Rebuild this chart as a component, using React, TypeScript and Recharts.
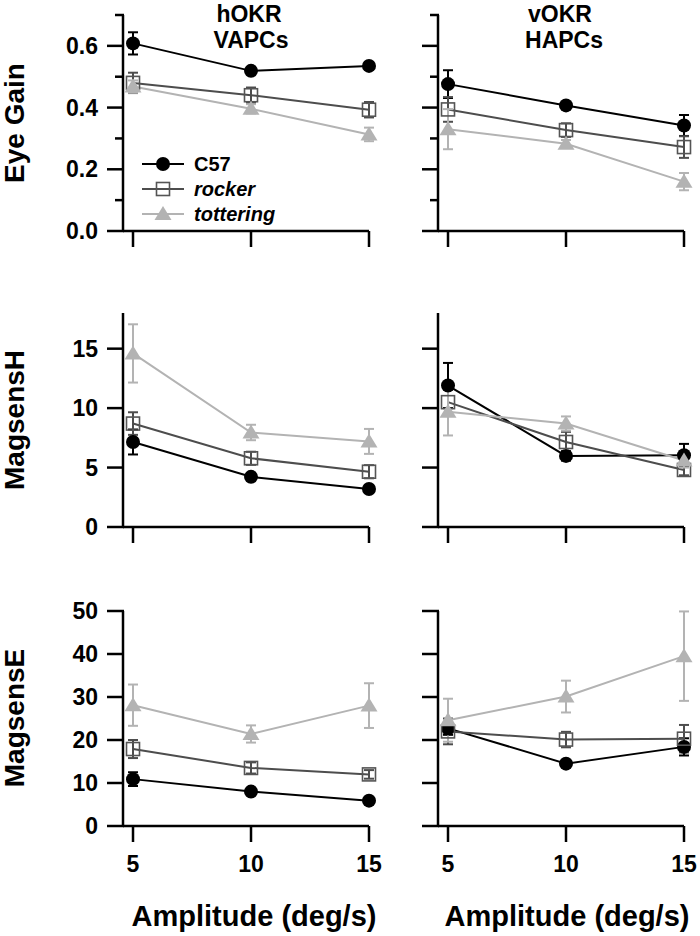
import { LineChart, Line, XAxis, YAxis, ErrorBar, Legend } from 'recharts'

const AMPLITUDES = [5, 10, 15]
const SERIES_NAMES = ['C57', 'rocker', 'tottering']

// Eye Gain, hOKR (VAPCs)
const GAIN_H_C57 = [0.608, 0.519, 0.535]
const GAIN_H_C57_ERR = [0.036, 0.01, 0.01]
const GAIN_H_ROCKER = [0.48, 0.44, 0.393]
const GAIN_H_ROCKER_ERR = [0.033, 0.025, 0.025]
const GAIN_H_TOT = [0.468, 0.396, 0.313]
const GAIN_H_TOT_ERR = [0.02, 0.015, 0.022]

// Eye Gain, vOKR (HAPCs)
const GAIN_V_C57 = [0.476, 0.407, 0.342]
const GAIN_V_C57_ERR = [0.045, 0.01, 0.034]
const GAIN_V_ROCKER = [0.394, 0.327, 0.272]
const GAIN_V_ROCKER_ERR = [0.04, 0.022, 0.035]
const GAIN_V_TOT = [0.33, 0.283, 0.16]
const GAIN_V_TOT_ERR = [0.065, 0.012, 0.028]

// MagsensH, hOKR
const MSH_H_C57 = [7.15, 4.22, 3.2]
const MSH_H_C57_ERR = [1.05, 0.3, 0.3]
const MSH_H_ROCKER = [8.7, 5.78, 4.65]
const MSH_H_ROCKER_ERR = [0.95, 0.55, 0.55]
const MSH_H_TOT = [14.6, 7.95, 7.2]
const MSH_H_TOT_ERR = [2.45, 0.65, 1.05]

// MagsensH, vOKR
const MSH_V_C57 = [11.9, 5.98, 6.04]
const MSH_V_C57_ERR = [1.9, 0.4, 0.95]
const MSH_V_ROCKER = [10.5, 7.15, 4.8]
const MSH_V_ROCKER_ERR = [1.1, 0.85, 0.45]
const MSH_V_TOT = [9.7, 8.7, 5.6]
const MSH_V_TOT_ERR = [2.0, 0.6, 0.6]

// MagsensE, hOKR
const MSE_H_C57 = [10.9, 8.0, 5.9]
const MSE_H_C57_ERR = [1.6, 0.5, 0.5]
const MSE_H_ROCKER = [17.9, 13.5, 12.0]
const MSE_H_ROCKER_ERR = [2.1, 1.3, 1.0]
const MSE_H_TOT = [28.1, 21.4, 28.0]
const MSE_H_TOT_ERR = [4.8, 2.0, 5.2]

// MagsensE, vOKR
const MSE_V_C57 = [22.7, 14.5, 18.4]
const MSE_V_C57_ERR = [1.5, 0.5, 2.0]
const MSE_V_ROCKER = [22.0, 20.1, 20.3]
const MSE_V_ROCKER_ERR = [3.0, 1.8, 3.2]
const MSE_V_TOT = [24.6, 30.1, 39.5]
const MSE_V_TOT_ERR = [5.0, 3.7, 10.4]

// axis ticks
const GAIN_TICKS = [0, 0.1, 0.2, 0.3, 0.4, 0.5, 0.6, 0.7]
const GAIN_MAJOR = [0, 0.2, 0.4, 0.6]
const MSH_TICKS = [0, 5, 10, 15]
const MSE_TICKS = [0, 10, 20, 30, 40, 50]

const FONT = '"Liberation Sans", Arial, Helvetica, sans-serif'
const COLORS = { c57: '#000000', rocker: '#4d4d4d', tottering: '#b3b3b3' }
const X_DOMAIN = [4.576, 15]

function rows(c57: number[], c57e: number[], rk: number[], rke: number[], tt: number[], tte: number[]) {
  return AMPLITUDES.map((amp, i) => ({
    amp,
    c57: c57[i], c57Err: c57e[i],
    rocker: rk[i], rockerErr: rke[i],
    tot: tt[i], totErr: tte[i],
  }))
}

function CircleDot(props: any) {
  const { cx, cy } = props
  if (cx == null || cy == null) return <g />
  return <circle cx={cx} cy={cy} r={7} fill={COLORS.c57} />
}

function SquareDot(props: any) {
  const { cx, cy } = props
  if (cx == null || cy == null) return <g />
  return <rect x={cx - 6.5} y={cy - 6.5} width={13} height={13} fill="none" stroke="#555" strokeWidth={1.6} />
}

function TriangleDot(props: any) {
  const { cx, cy } = props
  if (cx == null || cy == null) return <g />
  return <polygon points={`${cx},${cy - 8} ${cx - 8.5},${cy + 6} ${cx + 8.5},${cy + 6}`} fill={COLORS.tottering} />
}

function EmptyTick() {
  return <g />
}

function XTickLabel(props: any) {
  const { x, y, payload } = props
  return (
    <text x={x} y={y} dy="0.71em" textAnchor="middle" fontSize={23} fontWeight="bold" fontFamily={FONT} fill="#000">
      {payload.value}
    </text>
  )
}

function makeYTick(major: number[], digits: number, showLabel: boolean) {
  return (props: any) => {
    const { x, y, payload } = props
    const ax = x + 25
    const isMajor = major.includes(payload.value)
    const len = isMajor ? 16 : 8
    return (
      <g>
        <line x1={ax - len} x2={ax + 1} y1={y} y2={y} stroke="#000" strokeWidth={2.5} />
        {showLabel && isMajor && (
          <text x={x} y={y} dy="0.355em" textAnchor="end" fontSize={23} fontWeight="bold" fontFamily={FONT} fill="#000">
            {Number(payload.value).toFixed(digits)}
          </text>
        )}
      </g>
    )
  }
}

function LegendContent() {
  const items = [
    { name: SERIES_NAMES[0], color: COLORS.c57, Dot: CircleDot, italic: false, y: 14 },
    { name: SERIES_NAMES[1], color: COLORS.rocker, Dot: SquareDot, italic: true, y: 39 },
    { name: SERIES_NAMES[2], color: COLORS.tottering, Dot: TriangleDot, italic: true, y: 64 },
  ]
  return (
    <svg width={170} height={80}>
      {items.map((it) => (
        <g key={it.name}>
          <line x1={2} x2={44} y1={it.y} y2={it.y} stroke={it.color} strokeWidth={2} />
          <it.Dot cx={23} cy={it.y} />
          <text x={54} y={it.y} dy="0.355em" fontSize={20} fontWeight="bold" fontStyle={it.italic ? 'italic' : 'normal'} fontFamily={FONT} fill="#000">
            {it.name}
          </text>
        </g>
      ))}
    </svg>
  )
}

interface PanelProps {
  left: number
  top: number
  width: number
  height: number
  marginTop: number
  marginRight: number
  yWidth: number
  xHeight: number
  data: any[]
  yDomain: number[]
  yTicks: number[]
  yMajor: number[]
  digits: number
  yLabels: boolean
  xLabels: boolean
  legend?: boolean
}

function Panel(p: PanelProps) {
  return (
    <div style={{ position: 'absolute', left: p.left, top: p.top }}>
      <LineChart width={p.width} height={p.height} data={p.data} margin={{ top: p.marginTop, right: p.marginRight, bottom: 0, left: 0 }}>
        <XAxis
          dataKey="amp"
          type="number"
          domain={X_DOMAIN}
          ticks={AMPLITUDES}
          interval={0}
          height={p.xHeight}
          tickSize={16}
          tickMargin={14}
          stroke="#000"
          axisLine={{ strokeWidth: 2.5 }}
          tickLine={{ strokeWidth: 2.5 }}
          tick={p.xLabels ? XTickLabel : EmptyTick}
        />
        <YAxis
          type="number"
          domain={p.yDomain}
          ticks={p.yTicks}
          interval={0}
          width={p.yWidth}
          tickSize={16}
          tickMargin={9}
          stroke="#000"
          axisLine={{ strokeWidth: 2.5 }}
          tickLine={false}
          tick={makeYTick(p.yMajor, p.digits, p.yLabels)}
        />
        {p.legend && (
          <Legend
            layout="horizontal"
            verticalAlign="middle"
            align="center"
            content={LegendContent}
            wrapperStyle={{ position: 'absolute', left: 140, top: 150, width: 170, height: 80 }}
          />
        )}
        <Line dataKey="c57" name={SERIES_NAMES[0]} stroke={COLORS.c57} strokeWidth={2} dot={CircleDot} activeDot={false} isAnimationActive={false}>
          <ErrorBar dataKey="c57Err" direction="y" width={5} stroke={COLORS.c57} strokeWidth={2} />
        </Line>
        <Line dataKey="rocker" name={SERIES_NAMES[1]} stroke={COLORS.rocker} strokeWidth={2} dot={SquareDot} activeDot={false} isAnimationActive={false}>
          <ErrorBar dataKey="rockerErr" direction="y" width={5} stroke={COLORS.rocker} strokeWidth={2} />
        </Line>
        <Line dataKey="tot" name={SERIES_NAMES[2]} stroke={COLORS.tottering} strokeWidth={2} dot={TriangleDot} activeDot={false} isAnimationActive={false}>
          <ErrorBar dataKey="totErr" direction="y" width={5} stroke={COLORS.tottering} strokeWidth={2} />
        </Line>
      </LineChart>
    </div>
  )
}

export default function App() {
  const gainH = rows(GAIN_H_C57, GAIN_H_C57_ERR, GAIN_H_ROCKER, GAIN_H_ROCKER_ERR, GAIN_H_TOT, GAIN_H_TOT_ERR)
  const gainV = rows(GAIN_V_C57, GAIN_V_C57_ERR, GAIN_V_ROCKER, GAIN_V_ROCKER_ERR, GAIN_V_TOT, GAIN_V_TOT_ERR)
  const mshH = rows(MSH_H_C57, MSH_H_C57_ERR, MSH_H_ROCKER, MSH_H_ROCKER_ERR, MSH_H_TOT, MSH_H_TOT_ERR)
  const mshV = rows(MSH_V_C57, MSH_V_C57_ERR, MSH_V_ROCKER, MSH_V_ROCKER_ERR, MSH_V_TOT, MSH_V_TOT_ERR)
  const mseH = rows(MSE_H_C57, MSE_H_C57_ERR, MSE_H_ROCKER, MSE_H_ROCKER_ERR, MSE_H_TOT, MSE_H_TOT_ERR)
  const mseV = rows(MSE_V_C57, MSE_V_C57_ERR, MSE_V_ROCKER, MSE_V_ROCKER_ERR, MSE_V_TOT, MSE_V_TOT_ERR)

  // plot areas: left x 123..369, right x 438..684
  const leftCol = { left: 0, width: 395, marginRight: 26, yWidth: 123, yLabels: true }
  const rightCol = { left: 350, width: 350, marginRight: 16, yWidth: 88, yLabels: false }
  const row1 = { top: 0, height: 261, marginTop: 15, xHeight: 30, yDomain: [0, 0.7], yTicks: GAIN_TICKS, yMajor: GAIN_MAJOR, digits: 1, xLabels: false }
  const row2 = { top: 290, height: 267, marginTop: 23, xHeight: 30, yDomain: [0, 18], yTicks: MSH_TICKS, yMajor: MSH_TICKS, digits: 0, xLabels: false }
  const row3 = { top: 590, height: 286, marginTop: 21, xHeight: 50, yDomain: [0, 50], yTicks: MSE_TICKS, yMajor: MSE_TICKS, digits: 0, xLabels: true }

  const textStyle = { fontFamily: FONT, fontWeight: 'bold' as const, fill: '#000' }

  return (
    <div style={{ position: 'absolute', left: 0, top: 0, width: 700, height: 936, background: '#fff' }}>
      <Panel {...leftCol} {...row1} data={gainH} legend />
      <Panel {...rightCol} {...row1} data={gainV} />
      <Panel {...leftCol} {...row2} data={mshH} />
      <Panel {...rightCol} {...row2} data={mshV} />
      <Panel {...leftCol} {...row3} data={mseH} />
      <Panel {...rightCol} {...row3} data={mseV} />
      <svg width={700} height={936} style={{ position: 'absolute', left: 0, top: 0, pointerEvents: 'none' }}>
        <text x={249} y={22} textAnchor="middle" fontSize={23} {...textStyle}>hOKR</text>
        <text x={251} y={48} textAnchor="middle" fontSize={23} {...textStyle}>VAPCs</text>
        <text x={560} y={22} textAnchor="middle" fontSize={23} {...textStyle}>vOKR</text>
        <text x={564} y={48} textAnchor="middle" fontSize={23} {...textStyle}>HAPCs</text>
        <text transform="translate(24,123) rotate(-90)" textAnchor="middle" fontSize={28} {...textStyle}>Eye Gain</text>
        <text transform="translate(24,420) rotate(-90)" textAnchor="middle" fontSize={28} {...textStyle}>MagsensH</text>
        <text transform="translate(24,718) rotate(-90)" textAnchor="middle" fontSize={28} {...textStyle}>MagsensE</text>
        <text x={254} y={926} textAnchor="middle" fontSize={29} {...textStyle}>Amplitude (deg/s)</text>
        <text x={567} y={926} textAnchor="middle" fontSize={29} {...textStyle}>Amplitude (deg/s)</text>
      </svg>
    </div>
  )
}
